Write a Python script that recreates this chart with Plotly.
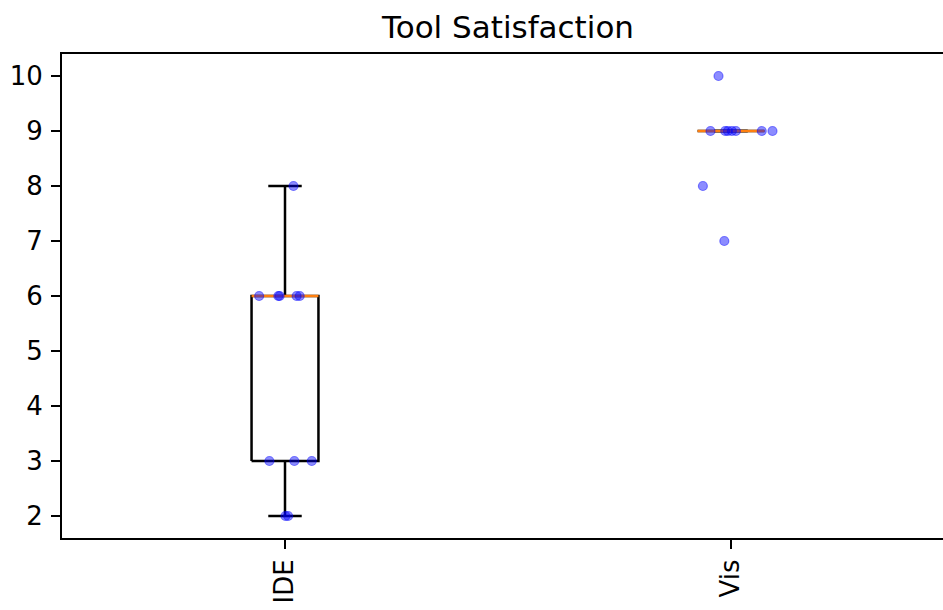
import numpy as np
import plotly.graph_objects as go

# ---- data ----
categories = ["IDE", "Vis"]
ide_scores = [2, 2, 3, 3, 3, 6, 6, 6, 6, 6, 8]
vis_scores = [7, 8, 9, 9, 9, 9, 9, 9, 9, 10]
# horizontal jitter offsets (category units)
ide_jitter = [0.001, 0.007, -0.035, 0.021, 0.060, -0.058, -0.015, -0.012, 0.026, 0.033, 0.019]
vis_jitter = [-0.015, -0.063, -0.046, -0.013, -0.007, 0.002, 0.011, 0.069, 0.093, -0.028]

groups = [ide_scores, vis_scores]
jitters = [ide_jitter, vis_jitter]
positions = [1, 2]
half_w = 0.075
cap_half = 0.0375

fig = go.Figure()

line_col = "black"
lw = 2.5

for pos, vals in zip(positions, groups):
    v = np.array(vals, dtype=float)
    q1, med, q3 = np.percentile(v, [25, 50, 75])
    iqr = q3 - q1
    hi = v[v <= q3 + 1.5 * iqr].max()
    lo = v[v >= q1 - 1.5 * iqr].min()
    # box
    fig.add_trace(go.Scatter(
        x=[pos - half_w, pos + half_w, pos + half_w, pos - half_w, pos - half_w],
        y=[q1, q1, q3, q3, q1], mode="lines",
        line=dict(color=line_col, width=lw), hoverinfo="skip", showlegend=False))
    # whiskers and caps
    fig.add_trace(go.Scatter(
        x=[pos, pos, None, pos, pos, None,
           pos - cap_half, pos + cap_half, None, pos - cap_half, pos + cap_half],
        y=[q1, lo, None, q3, hi, None, lo, lo, None, hi, hi], mode="lines",
        line=dict(color=line_col, width=lw), hoverinfo="skip", showlegend=False))
    # median
    fig.add_trace(go.Scatter(
        x=[pos - half_w, pos + half_w], y=[med, med], mode="lines",
        line=dict(color="#ff7f0e", width=lw), hoverinfo="skip", showlegend=False))

for pos, vals, jit in zip(positions, groups, jitters):
    fig.add_trace(go.Scatter(
        x=[pos + j for j in jit], y=vals, mode="markers",
        marker=dict(color="rgba(0,0,255,0.45)", size=9,
                    line=dict(color="rgba(0,0,255,0.45)", width=1.2)),
        showlegend=False))

fig.update_layout(
    width=943, height=610,
    margin=dict(l=62, r=0, t=54, b=72),
    paper_bgcolor="white", plot_bgcolor="white",
    font=dict(family="DejaVu Sans", size=26, color="black"),
    title=dict(text="Tool Satisfaction", x=508 / 943, xref="container", xanchor="center",
               y=1 - 27 / 610, yref="container", yanchor="middle",
               font=dict(family="DejaVu Sans", size=31, color="black")),
)
fig.update_xaxes(
    range=[0.5, 0.5 + (943 - 62) / 446], tickvals=positions, ticktext=categories,
    tickangle=-90, showgrid=False, zeroline=False, automargin=False,
    showline=True, mirror=True, linecolor="black", linewidth=2,
    ticks="outside", ticklen=9, tickwidth=2, tickcolor="black",
    tickfont=dict(size=26, family="DejaVu Sans", color="black"))
fig.update_yaxes(
    range=[1.6, 10.4], tickvals=list(range(2, 11)), showgrid=False, zeroline=False,
    automargin=False, ticklabelstandoff=3,
    showline=True, mirror=False, linecolor="black", linewidth=2,
    ticks="outside", ticklen=9, tickwidth=2, tickcolor="black",
    tickfont=dict(size=26, family="DejaVu Sans", color="black"))

fig.write_html("out.html", config={"displayModeBar": False},
               post_script="document.body.style.margin='0';document.body.style.padding='0';")
